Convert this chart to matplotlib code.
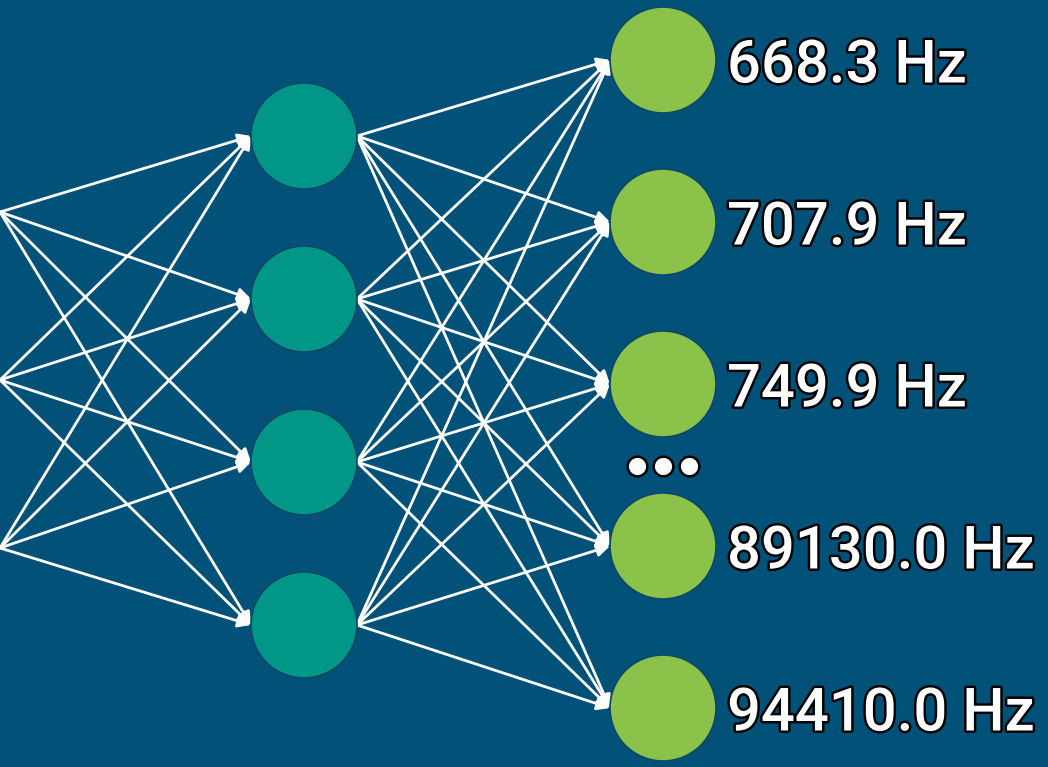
import matplotlib.pyplot as plt
import matplotlib.patheffects as pe
from matplotlib.patches import Circle, FancyArrowPatch

# Network layout
n_input = 3
n_hidden = 4
output_labels = ['668.3 Hz', '707.9 Hz', '749.9 Hz', '89130.0 Hz', '94410.0 Hz']

# Colors
bg = '#015179'
hidden_color = '#009688'
output_color = '#8BC34A'
edge_color = '#0E4766'

# Node positions (pixels, y going down)
x_in, x_hid, x_out = 0, 304, 663
r = 53
y_in = [212 + 168 * i for i in range(n_input)]
y_hid = [136 + 163 * i for i in range(n_hidden)]
y_out = [60, 222, 384, 546, 708]

fig = plt.figure(figsize=(10.48, 7.67), dpi=100)
fig.patch.set_facecolor(bg)
ax = fig.add_axes([0, 0, 1, 1])
ax.set_facecolor(bg)
ax.set_xlim(0, 1048)
ax.set_ylim(767, 0)
ax.set_aspect('equal')
ax.axis('off')

def arrow(p0, p1):
    a = FancyArrowPatch(p0, p1, arrowstyle='-|>', mutation_scale=19,
                        color='white', lw=2.0, shrinkA=0, shrinkB=0, zorder=2)
    ax.add_patch(a)

# Input -> hidden
for yi in y_in:
    for yh in y_hid:
        arrow((x_in, yi), (x_hid - r, yh))

# Hidden -> output
for yh in y_hid:
    for yo in y_out:
        arrow((x_hid + r, yh), (x_out - r, yo))

# Nodes
for yh in y_hid:
    ax.add_patch(Circle((x_hid, yh), r, facecolor=hidden_color, edgecolor=edge_color, lw=1.2, zorder=3))
for yo in y_out:
    ax.add_patch(Circle((x_out, yo), r, facecolor=output_color, edgecolor=edge_color, lw=1.2, zorder=3))

# Labels
stroke = [pe.withStroke(linewidth=3.5, foreground='black')]
for yo, lab in zip(y_out, output_labels):
    ax.text(x_out + r + 11, yo + 6, lab, color='white', fontsize=43, family='Roboto',
            fontweight='medium', va='center', ha='left', path_effects=stroke, zorder=4)

# Ellipsis between the third and fourth outputs
y_dots = (y_out[2] + y_out[3]) / 2 + 1
ax.scatter([x_out - 26, x_out, x_out + 26], [y_dots] * 3, s=200, facecolor='white',
           edgecolor='black', linewidth=1.8, zorder=4)

plt.savefig('out.png', dpi=100, facecolor=bg)
